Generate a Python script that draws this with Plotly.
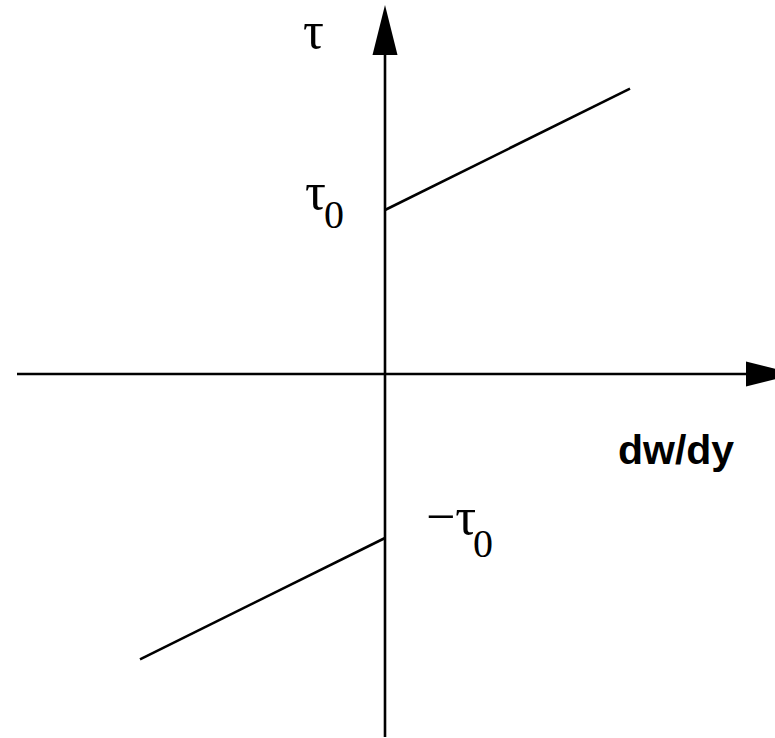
import plotly.graph_objects as go

# Bingham plastic: shear stress vs. shear rate
tau0 = 1.0            # yield stress
mu_p = 0.74           # plastic viscosity (slope)
gamma_max = 1.0       # extent of the drawn shear-rate branch

gamma_pos = [0.0, gamma_max]
gamma_neg = [-gamma_max, 0.0]
tau_pos = [tau0 + mu_p * g for g in gamma_pos]
tau_neg = [-tau0 + mu_p * g for g in gamma_neg]

W, H = 775, 738
X_RANGE = [-1.5714, 1.5918]
Y_RANGE = [-2.2195, 2.2805]

sx = W / (X_RANGE[1] - X_RANGE[0])   # px per x unit
sy = H / (Y_RANGE[1] - Y_RANGE[0])   # px per y unit

line_style = dict(color="black", width=2.6)

fig = go.Figure()
fig.add_trace(go.Scatter(x=gamma_pos, y=tau_pos, mode="lines", line=line_style,
                         hoverinfo="skip", showlegend=False))
fig.add_trace(go.Scatter(x=gamma_neg, y=tau_neg, mode="lines", line=line_style,
                         hoverinfo="skip", showlegend=False))

# Axes drawn through the origin, with filled arrowheads
x_left = X_RANGE[0] + 17 / sx
y_bottom = Y_RANGE[0] + 1 / sy
head_len, head_half = 50, 12.5
x_tip = X_RANGE[1] + 21 / sx
y_tip = Y_RANGE[1] - 5 / sy

shapes = [
    dict(type="line", x0=x_left, y0=0, x1=x_tip - head_len / sx, y1=0,
         xref="x", yref="y", line=line_style),
    dict(type="line", x0=0, y0=y_bottom, x1=0, y1=y_tip - head_len / sy,
         xref="x", yref="y", line=line_style),
    dict(type="path", xref="x", yref="y", fillcolor="black", line=dict(width=0),
         path=(f"M {x_tip - head_len / sx} {head_half / sy} L {x_tip} 0 "
               f"L {x_tip - head_len / sx} {-head_half / sy} Z")),
    dict(type="path", xref="x", yref="y", fillcolor="black", line=dict(width=0),
         path=(f"M {-head_half / sx} {y_tip - head_len / sy} L 0 {y_tip} "
               f"L {head_half / sx} {y_tip - head_len / sy} Z")),
]

SERIF = "Liberation Serif"
SANS = "Liberation Sans"


def label(text, px, py, size, family, xanchor="center", bold=False):
    return dict(text=f"<b>{text}</b>" if bold else text,
                x=px / W, y=1 - py / H, xref="paper", yref="paper",
                xanchor=xanchor, yanchor="middle", showarrow=False,
                font=dict(family=family, size=size, color="black"))


annotations = [
    label("τ", 313, 31, 52, SERIF),
    label("τ", 315, 191, 52, SERIF),
    label("0", 334, 215, 40, SERIF),
    label("−τ", 424, 516, 52, SERIF, xanchor="left"),
    label("0", 483, 543, 40, SERIF),
    label("dw/dy", 676, 450, 41, SANS, bold=True),
]

fig.update_layout(
    width=W, height=H, autosize=False,
    margin=dict(l=0, r=0, t=0, b=0),
    paper_bgcolor="white", plot_bgcolor="white",
    xaxis=dict(range=X_RANGE, visible=False, fixedrange=True),
    yaxis=dict(range=Y_RANGE, visible=False, fixedrange=True),
    shapes=shapes, annotations=annotations,
)

fig.write_html("out.html")
